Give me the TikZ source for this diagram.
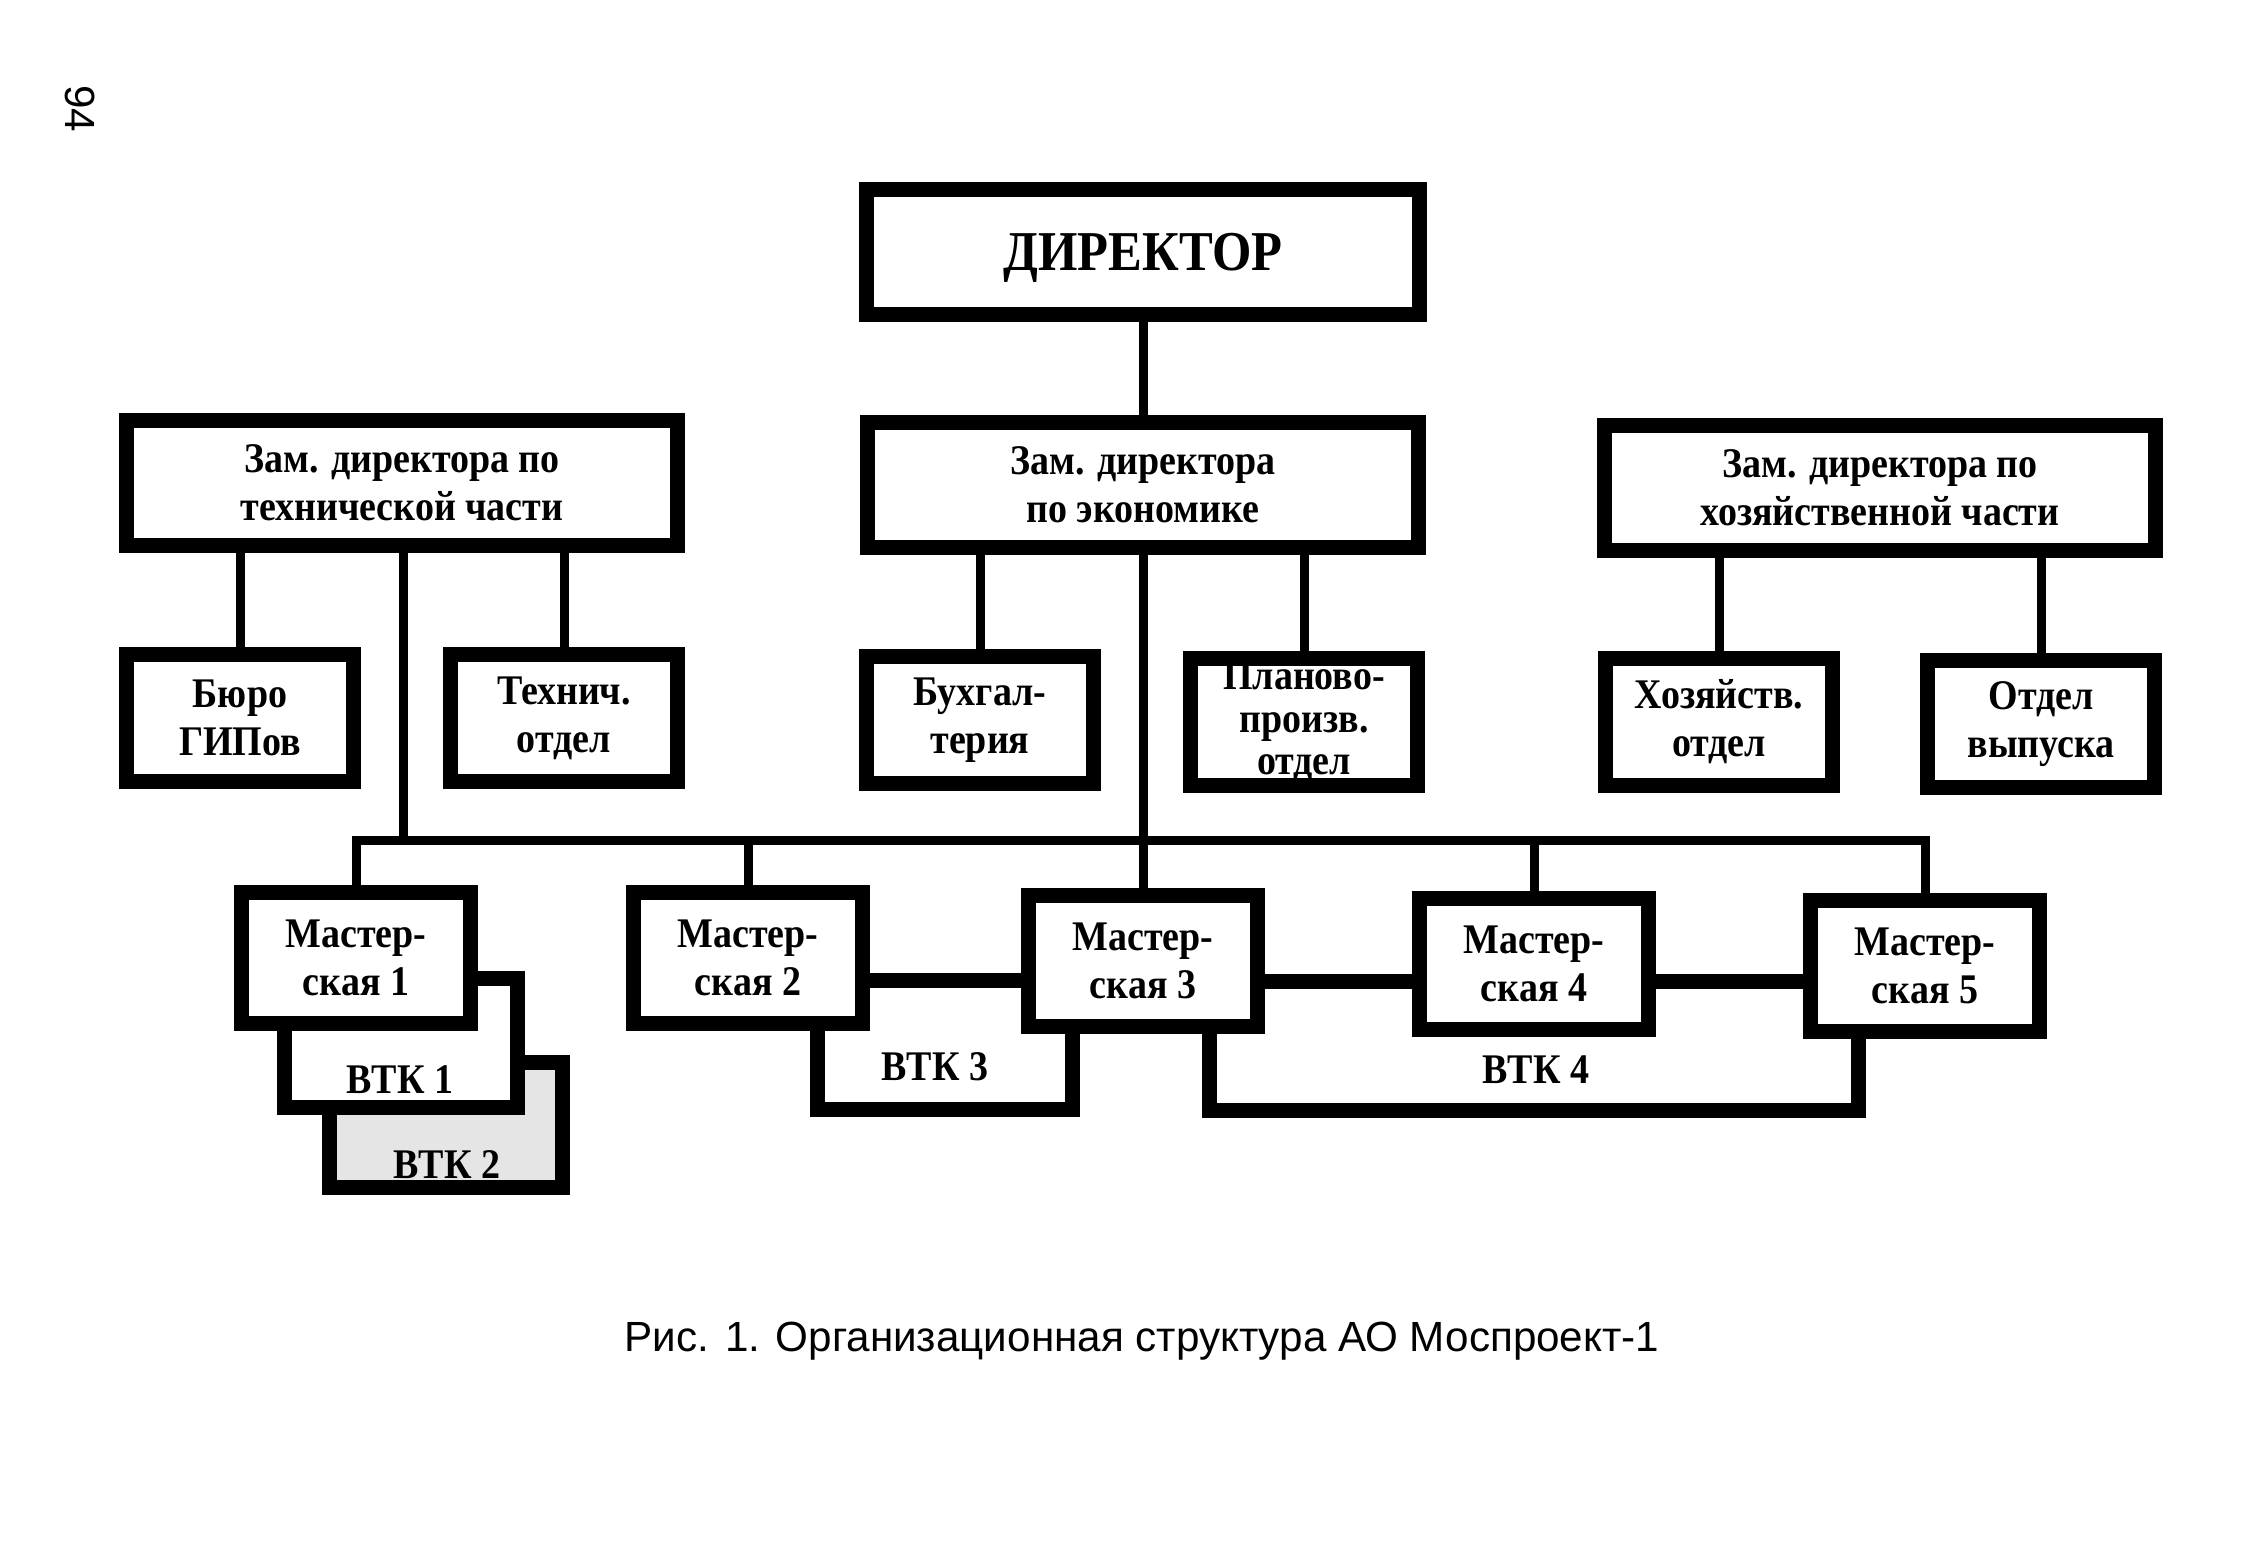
\documentclass[tikz,border=0pt]{standalone}
\usepackage{fontspec}
\setmainfont{Liberation Serif}[FakeStretch=0.9]
\newfontfamily\capfont{Liberation Sans}
\usetikzlibrary{calc}
\colorlet{vtkgray}{black!10}

\begin{document}
\begin{tikzpicture}[x=0.01cm,y=-0.01cm]
\tikzset{box/.style={draw, line width=0.15cm, fill=white, inner sep=0pt, align=center, font=\bfseries\fontsize{12}{13.6}\selectfont}}
\tikzset{chief/.style={box, minimum width=5.5cm, minimum height=1.24cm}}
\tikzset{dept/.style={box, minimum width=2.27cm, minimum height=1.27cm}}
\tikzset{shop/.style={box, minimum width=2.28cm, minimum height=1.31cm}}
\tikzset{vtk/.style={draw, line width=0.15cm, fill=white, inner sep=0pt}}
\tikzset{vtklabel/.style={inner sep=0pt, font=\bfseries\fontsize{12}{13.6}\selectfont}}
\tikzset{link/.style={line width=0.09cm}}
\useasboundingbox (0,0) rectangle (2264,1549);
\node[rotate=-90, font=\capfont\fontsize{12}{14}\selectfont] (page) at (80,109) {94};
\node[chief, minimum width=5.53cm, text depth=0pt, font=\bfseries\fontsize{16}{19}\selectfont] (dir) at (1143,252) {ДИРЕКТОР};
\node[chief] (tech) at (402,483) {Зам. директора по\\технической части};
\node[chief] (econ) at (1143,485) {Зам. директора\\по экономике};
\node[chief] (hoz) at (1880,488) {Зам. директора по\\хозяйственной части};
\node[dept] (buro) at (240,718) {Бюро\\ГИПов};
\node[dept] (technich) at (564,718) {Технич.\\отдел};
\node[dept] (buh) at (980,720) {Бухгал-\\терия};
\node[dept, font=\bfseries\fontsize{12}{12}\selectfont] (plan) at (1304,722) {Планово-\\произв.\\отдел};
\node[dept] (hozotd) at (1719,722) {Хозяйств.\\отдел};
\node[dept] (vypusk) at (2041,724) {Отдел\\выпуска};
\node[vtk, fill=vtkgray, minimum width=2.33cm, minimum height=1.25cm] (vtk2) at (446,1125) {};
\node[vtk, minimum width=2.33cm, minimum height=1.28cm] (vtk1) at (401,1043) {};
\node[vtk, minimum width=2.55cm, minimum height=1.29cm] (vtk3) at (945,1045) {};
\node[vtk, minimum width=6.48cm, minimum height=1.28cm] (vtk4) at (1534,1046) {};
\node[shop] (m1) at (356,958) {Мастер-\\ская 1};
\node[shop] (m2) at (748,958) {Мастер-\\ская 2};
\node[shop] (m3) at (1143,961) {Мастер-\\ская 3};
\node[shop] (m4) at (1534,964) {Мастер-\\ская 4};
\node[shop] (m5) at (1925,966) {Мастер-\\ская 5};
\node[vtklabel] (vtk1l) at (400,1080) {ВТК 1};
\node[vtklabel] (vtk2l) at (447,1165) {ВТК 2};
\node[vtklabel] (vtk3l) at (935,1067) {ВТК 3};
\node[vtklabel] (vtk4l) at (1536,1070) {ВТК 4};
\coordinate (techdown) at (403,840);
\draw[link] (dir.south) -- (econ.north);
\draw[link] (buro.north) -- (buro.north |- tech.south);
\draw[link] (technich.north) -- (technich.north |- tech.south);
\draw[link] (techdown |- tech.south) -- (techdown);
\draw[link] (buh.north) -- (buh.north |- econ.south);
\draw[link] (plan.north) -- (plan.north |- econ.south);
\draw[link] (econ.south) -- (m3.north);
\draw[link] (hozotd.north) -- (hozotd.north |- hoz.south);
\draw[link] (vypusk.north) -- (vypusk.north |- hoz.south);
\draw[link] (m1.north) -- (m1.north |- techdown) -- (m5.north |- techdown) -- (m5.north);
\foreach \m in {m2,m4} \draw[link] (\m.north) -- (\m.north |- techdown);
\node[font=\capfont\fontsize{12}{15}\selectfont] (caption) at (1142,1341) {Рис. 1. Организационная структура АО Моспроект-1};
\end{tikzpicture}
\end{document}
